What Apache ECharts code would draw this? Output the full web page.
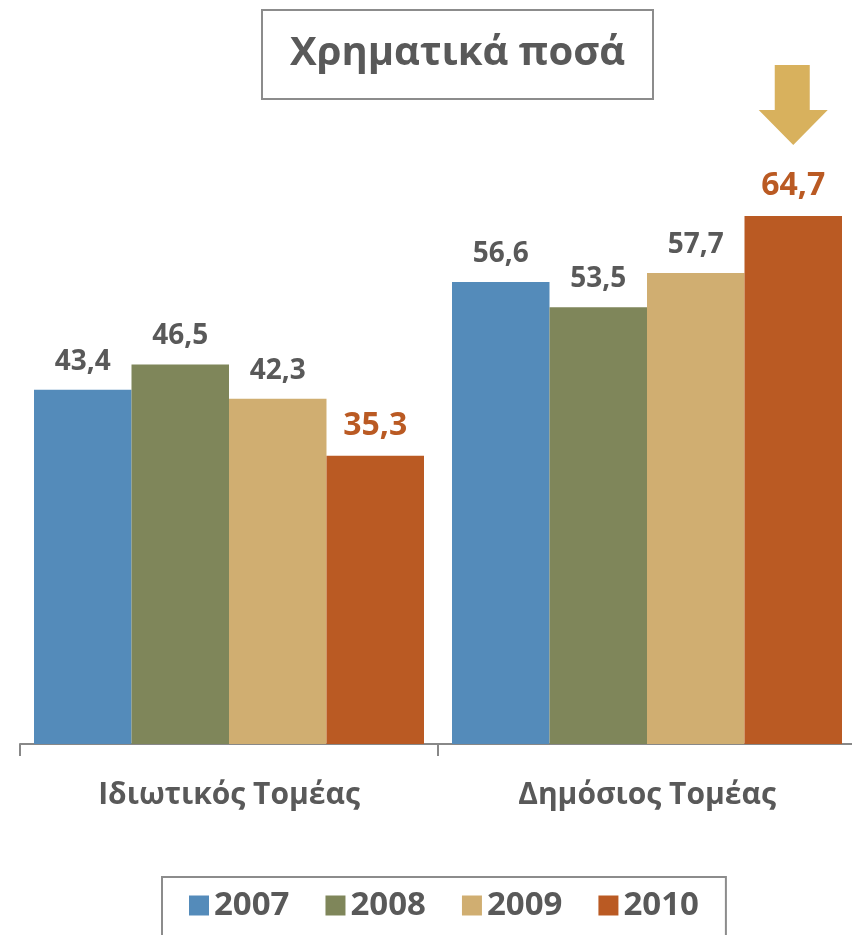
<!DOCTYPE html>
<html><head><meta charset="utf-8">
<script src="https://cdn.jsdelivr.net/npm/echarts@6/dist/echarts.min.js"></script>
<style>html,body{margin:0;padding:0;background:#fff}#c{width:852px;height:935px}</style>
</head><body><div id="c"></div>
<script>
const categories = ['Ιδιωτικός Τομέας', 'Δημόσιος Τομέας'];
const years = ['2007', '2008', '2009', '2010'];
const v2007 = [43.4, 56.6];
const v2008 = [46.5, 53.5];
const v2009 = [42.3, 57.7];
const v2010 = [35.3, 64.7];
const seriesValues = [v2007, v2008, v2009, v2010];
const colors = ['#548BBA', '#7F865A', '#D0AE71', '#BA5A23'];
const labelColors = ['#595959', '#595959', '#595959', '#BA5A23'];
const labelSizes = [28, 28, 28, 32];
const FONT = '"Open Sans", "Noto Sans", sans-serif';

const chart = echarts.init(document.getElementById('c'), null, {renderer: 'canvas'});
const series = years.map((y, i) => {
  const s = {
    name: y, type: 'bar', data: seriesValues[i],
    barGap: '0%', barCategoryGap: '6.7%',
    itemStyle: {color: colors[i]},
    label: {
      show: true, position: 'top', distance: 14,
      formatter: p => p.value.toFixed(1).replace('.', ','),
      fontFamily: FONT, fontWeight: 'bold', fontSize: labelSizes[i], color: labelColors[i]
    }
  };
  if (i === 3) {
    s.markPoint = {
      data: [{type: 'max'}],
      symbol: 'path://M16 0 L51 0 L51 45 L69 45 L34.5 80 L0 45 L16 45 Z',
      symbolSize: [69, 80],
      symbolOffset: [0, -111],
      itemStyle: {color: '#D8B15D'},
      label: {show: false},
      silent: true
    };
  }
  return s;
});

chart.setOption({
  animation: false,
  backgroundColor: '#fff',
  title: {
    text: 'Χρηματικά ποσά', left: 262, top: 10,
    padding: [24, 28, 25, 28],
    borderColor: '#8c8c8c', borderWidth: 2,
    textStyle: {fontFamily: FONT, fontWeight: 'bold', fontSize: 40, color: '#595959'}
  },
  legend: {
    data: years, left: 162, top: 877, orient: 'horizontal',
    itemWidth: 20, itemHeight: 20, itemGap: 36, icon: 'rect',
    padding: [12, 27, 40, 27],
    borderColor: '#8c8c8c', borderWidth: 2,
    textStyle: {fontFamily: FONT, fontWeight: 'bold', fontSize: 33, color: '#595959'}
  },
  grid: {left: 20, width: 836, top: 91, bottom: 191, outerBoundsMode: 'none', containLabel: false},
  xAxis: {
    type: 'category', data: categories,
    axisLine: {show: true, lineStyle: {color: '#888', width: 2}},
    axisTick: {show: true, length: 12, lineStyle: {color: '#888', width: 2}},
    axisLabel: {fontFamily: FONT, fontWeight: 'bold', fontSize: 30, color: '#595959', margin: 36}
  },
  yAxis: {type: 'value', min: 0, max: 80, show: false, splitLine: {show: false}},
  series: series
});
</script></body></html>
